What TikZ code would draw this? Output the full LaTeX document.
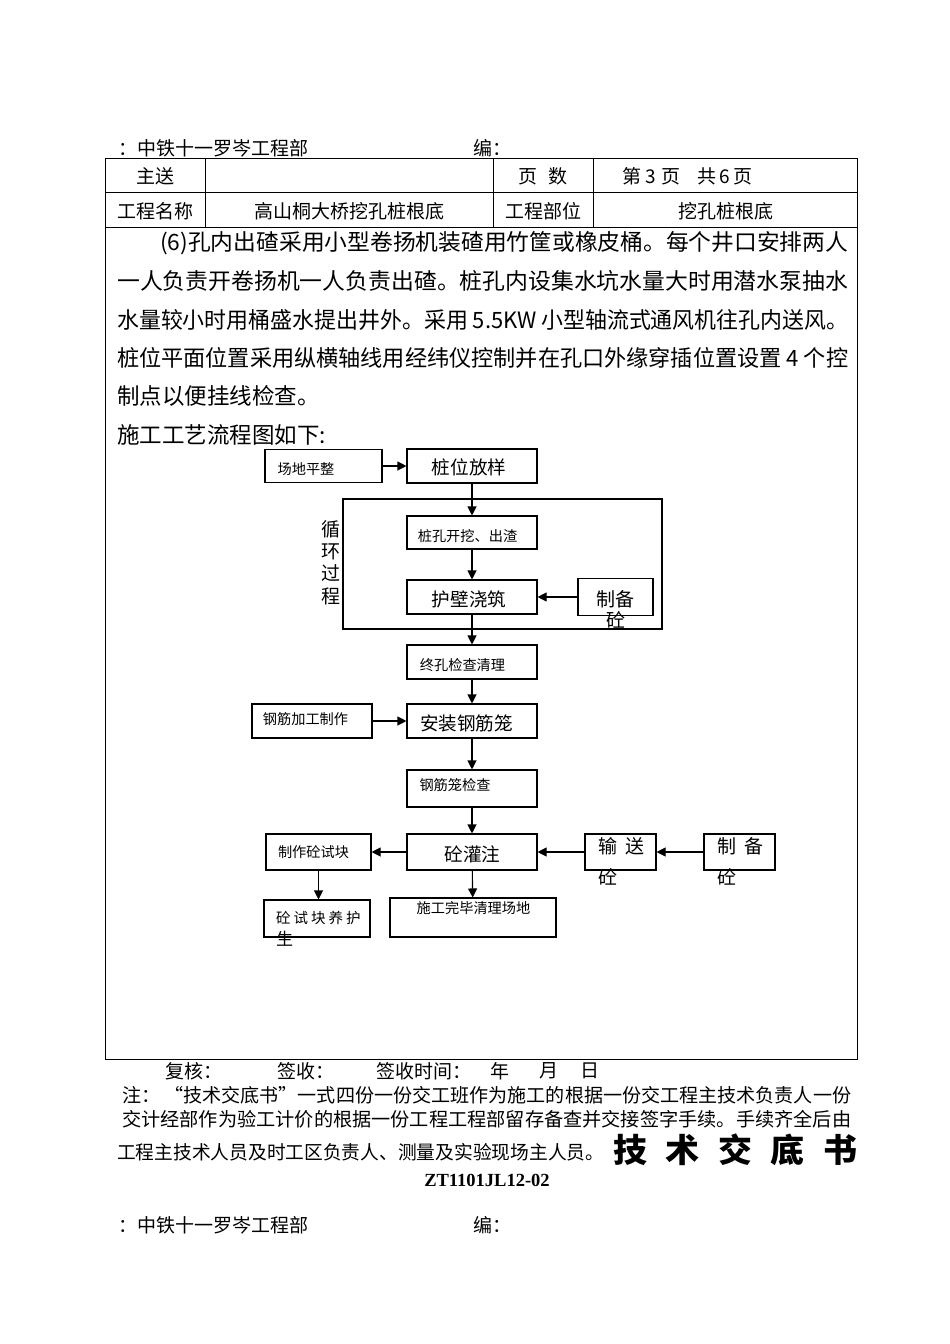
\documentclass[tikz,border=0pt]{standalone}
\usepackage{fontspec}
\usepackage{graphicx}
\setmainfont{Noto Sans CJK SC}
\newfontfamily\latinbf{Liberation Serif}
\usetikzlibrary{arrows.meta}

\newcommand{\fs}[2]{\fontsize{#1pt}{#2pt}\selectfont}
\newcommand{\fitline}[2]{\resizebox{#1pt}{\height}{#2}}

\tikzset{
  txt/.style={inner sep=0pt, font=\fs{19}{22}},
  parline/.style={anchor=west, inner sep=0pt, font=\fs{22.5}{26}},
  box/.style={draw, line width=1.1pt, inner sep=0pt, minimum width=130pt, minimum height=34pt},
  stxt/.style={inner sep=0pt, font=\fs{14.2}{18}},
  btxt/.style={inner sep=0pt, font=\fs{18.6}{22}},
  flow/.style={line width=1.1pt, -{Triangle[length=9pt,width=9pt]}},
}

\begin{document}
\begin{tikzpicture}[x=1pt,y=-1pt]
    \useasboundingbox[fill=white] (0,0) rectangle (950,1344);

    % header
    \node[txt, anchor=west] (dept) at (118,148) {：中铁十一罗岑工程部};
    \node[txt, anchor=west] (edit) at (473,148) {编：};

    % table frame
    \draw[line width=0.8pt] (105,158) rectangle (857,1059);
    \draw[line width=0.8pt] (105,192) -- (857,192) (105,227) -- (857,227);
    \foreach \x in {205,493,593}
        \draw[line width=0.8pt] (\x,158) -- (\x,227);
    \node[txt] (send) at (155,176) {主送};
    \node[txt] (pages) at (543,176) {页\hspace{12pt}数};
    \node[txt, anchor=west] (pageno) at (622,176) {第\hspace{4pt}3\hspace{6pt}页\hspace{17pt}共\hspace{3pt}6\hspace{3pt}页};
    \node[txt] (proj) at (155,211) {工程名称};
    \node[txt] (projname) at (349,211) {高山桐大桥挖孔桩根底};
    \node[txt] (part) at (543,211) {工程部位};
    \node[txt] (partname) at (726,211) {挖孔桩根底};

    % paragraph
    \node[parline] (p1) at (160,243) {\fitline{688}{(6)孔内出碴采用小型卷扬机装碴用竹筐或橡皮桶。每个井口安排两人}};
    \node[parline] (p2) at (117,281) {\fitline{731}{一人负责开卷扬机一人负责出碴。桩孔内设集水坑水量大时用潜水泵抽水}};
    \node[parline] (p3) at (117,320) {\fitline{731}{水量较小时用桶盛水提出井外。采用 5.5KW 小型轴流式通风机往孔内送风。}};
    \node[parline] (p4) at (117,358) {\fitline{731}{桩位平面位置采用纵横轴线用经纬仪控制并在孔口外缘穿插位置设置 4 个控}};
    \node[parline] (p5) at (117,396) {制点以便挂线检查。};
    \node[parline] (p6) at (117,435) {施工工艺流程图如下:};

    % flow chart boxes
    \node[box, minimum width=117pt, minimum height=33pt] (site) at (323.5,466) {};
    \node[box] (pos) at (472,466) {};
    \node[draw, line width=1.1pt, minimum width=319pt, minimum height=130pt] (loop) at (502.5,564) {};
    \node[box, minimum height=33pt] (dig) at (472,532.5) {};
    \node[box] (wall) at (472,597) {};
    \node[box, minimum width=75pt, minimum height=37pt] (mixa) at (615.5,597) {};
    \node[box] (final) at (472,662) {};
    \node[box, minimum width=120pt] (rebar) at (312,721) {};
    \node[box] (cage) at (472,721) {};
    \node[box, minimum height=37pt] (check) at (472,788.5) {};
    \node[box, minimum height=36pt] (pour) at (472,852) {};
    \node[box, minimum width=105pt, minimum height=36pt] (sample) at (318.5,852) {};
    \node[box, minimum width=71pt, minimum height=36pt] (convey) at (620.5,852) {};
    \node[box, minimum width=71pt, minimum height=36pt] (mixb) at (739.5,852) {};
    \node[box, minimum width=106pt, minimum height=37pt] (cure) at (317,918.5) {};
    \node[box, minimum width=166pt, minimum height=39pt] (clean) at (473,917.5) {};

    % flow chart texts
    \node[stxt] (sitet) at (306,469) {场地平整};
    \node[btxt] (post) at (469,467) {桩位放样};
    \node[txt, align=center, font=\fs{19}{22.4}] (cyct) at (331,562.5) {循\\环\\过\\程};
    \node[stxt] (digt) at (467.5,536) {桩孔开挖、出渣};
    \node[btxt] (wallt) at (469,599) {护壁浇筑};
    \node[txt, align=center, font=\fs{19}{21}] (mixat) at (615.5,609.5) {制备\\砼};
    \node[stxt] (finalt) at (462.5,665) {终孔检查清理};
    \node[stxt] (rebart) at (305.5,719) {钢筋加工制作};
    \node[btxt] (caget) at (466.5,723) {安装钢筋笼};
    \node[stxt] (checkt) at (455,785) {钢筋笼检查};
    \node[btxt] (pourt) at (472.5,854) {砼灌注};
    \node[stxt] (samplet) at (313.5,852) {制作砼试块};
    \node[txt, anchor=west, align=left, font=\fs{19}{31}] (conveyt) at (598,861.5) {输\hspace{8pt}送\\砼};
    \node[txt, anchor=west, align=left, font=\fs{19}{31}] (mixbt) at (717,861.5) {制\hspace{8pt}备\\砼};
    \node[txt, anchor=west, font=\fs{14.5}{18}] (curet) at (276,917.5) {砼\hspace{3pt}试\hspace{3pt}块\hspace{3pt}养\hspace{3pt}护};
    \node[txt, anchor=west, font=\fs{17}{20}] (curet2) at (276,939) {生};
    \node[stxt] (cleant) at (473.5,908) {施工完毕清理场地};

    % flow chart arrows
    \draw[flow] (site) -- (pos);
    \draw[flow] (pos) -- (dig);
    \draw[flow] (dig) -- (wall);
    \draw[flow] (mixa) -- (wall);
    \draw[flow] (wall) -- (final);
    \draw[flow] (final) -- (cage);
    \draw[flow] (rebar) -- (cage);
    \draw[flow] (cage) -- (check);
    \draw[flow] (check) -- (pour);
    \draw[flow] (pour) -- (sample);
    \draw[flow] (sample.south) -- (sample.south |- cure.north);
    \draw[flow] (pour) -- (clean);
    \draw[flow] (convey) -- (pour);
    \draw[flow] (mixb) -- (convey);

    % footer
    \node[txt, anchor=west] (review) at (165,1071) {复核：};
    \node[txt, anchor=west] (sign) at (277,1071) {签收：};
    \node[txt, anchor=west] (signtime) at (376,1071) {签收时间：};
    \node[txt, anchor=west] (year) at (490,1071) {年};
    \node[txt, anchor=west] (month) at (539,1071) {月};
    \node[txt, anchor=west] (day) at (580,1071) {日};
    \node[txt, anchor=west] (note1) at (122,1095) {\fitline{729}{注：\hspace{4pt}“技术交底书”一式四份一份交工班作为施工的根据一份交工程主技术负责人一份}};
    \node[txt, anchor=west] (note2) at (122,1119) {\fitline{729}{交计经部作为验工计价的根据一份工程工程部留存备查并交接签字手续。手续齐全后由}};
    \node[txt, anchor=west] (note3) at (117,1152) {\fitline{487}{工程主技术人员及时工区负责人、测量及实验现场主人员。}};
    \node[txt, anchor=west, font=\fs{33}{36}\bfseries] (title) at (613,1150) {\fitline{244}{技\hspace{18pt}术\hspace{18pt}交\hspace{18pt}底\hspace{18pt}书}};
    \node[txt, font=\latinbf\bfseries\fs{18.5}{20}] (code) at (487,1180) {ZT1101JL12-02};

    % next page header
    \node[txt, anchor=west] (dept2) at (118,1225) {：中铁十一罗岑工程部};
    \node[txt, anchor=west] (edit2) at (473,1225) {编：};
\end{tikzpicture}
\end{document}
